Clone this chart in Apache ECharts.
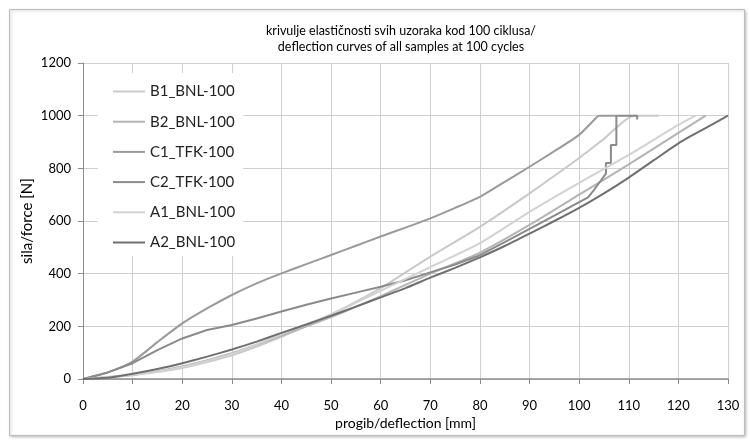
<!DOCTYPE html>
<html>
<head>
<meta charset="utf-8">
<script src="https://cdn.jsdelivr.net/npm/echarts@6/dist/echarts.min.js"></script>
<style>
html,body{margin:0;padding:0;background:#fff;}
#chart{width:750px;height:443px;}
</style>
</head>
<body>
<div id="chart"></div>
<script>
// ---- data (deflection in mm, force in N) ----
const seriesNames = ['B1_BNL-100','B2_BNL-100','C1_TFK-100','C2_TFK-100','A1_BNL-100','A2_BNL-100'];

const b1X = [0,10,20,30,40,50,60,70,80,90,100,105,111,116];
const b1Y = [0,15,42,90,160,245,345,465,578,705,839,912,1000,1000];

const b2X = [0,10,20,30,40,50,60,70,80,90,100,110,120,125.5];
const b2Y = [0,15,48,98,165,235,315,400,480,585,700,815,935,1000];

const c1X = [0,5,10,15,20,25,30,35,40,45,50,55,60,65,70,75,80,84,90,95,100,103.6,104,107.5];
const c1Y = [0,25,66,140,211,268,319,363,401,436,471,506,541,575,610,650,692,737,806,865,927,995,1000,1000];

const c2X = [0,5,10,15,20,25,30,35,40,45,50,55,60,65,70,75,80,85,90,95,100,101.8,103,104.3,105.4,105.4,106.4,106.4,107.5,107.5,111.7,111.7];
const c2Y = [0,25,60,110,154,186,205,230,256,282,306,328,350,375,405,435,470,520,570,620,672,690,718,752,780,820,820,889,889,1000,1000,985];

const a1X = [0,10,20,30,40,50,60,70,80,90,100,110,120,123.5];
const a1Y = [0,16,45,95,170,245,335,425,516,635,745,851,965,1000];

const a2X = [0,5,10,15,20,25,30,35,40,45,50,55,60,65,70,75,80,85,90,95,100,105,110,115,120,125,130];
const a2Y = [0,5,20,38,60,85,112,142,175,207,240,275,310,345,385,422,462,505,552,600,650,705,765,830,895,948,1000];

const xTicks = {min:0, max:130, interval:10};
const yTicks = {min:0, max:1200, interval:200};

const titleLines = ['krivulje elastičnosti svih uzoraka kod 100 ciklusa/','deflection curves of all samples at 100 cycles'];
const xName = 'progib/deflection [mm]';
const yName = 'sila/force [N]';

// ---- build ----
const allX = [b1X,b2X,c1X,c2X,a1X,a2X];
const allY = [b1Y,b2Y,c1Y,c2Y,a1Y,a2Y];
const colors = ['#c9c9c9','#b4b4b4','#9a9a9a','#8a8a8a','#d2d2d2','#6f6f6f'];
const smoothing = [0.2,0.2,0.2,false,0.2,0.2];
const FONT = "Lato,'Open Sans',sans-serif";

const series = seriesNames.map((n,i)=>({
  name:n, type:'line', symbol:'none', smooth:smoothing[i],
  data: allX[i].map((x,j)=>[x, allY[i][j]]),
  lineStyle:{color:colors[i], width:2},
  itemStyle:{color:colors[i]},
  z: 3
}));

const chart = echarts.init(document.getElementById('chart'), null, {renderer:'canvas'});
chart.setOption({
  animation:false,
  backgroundColor:'#fff',
  textStyle:{fontFamily:FONT},
  graphic:[{
    type:'rect', left:9, top:9, z:-10,
    shape:{width:735, height:426},
    style:{fill:'#fff', stroke:'#bdbdbd', lineWidth:1, shadowBlur:3, shadowColor:'rgba(0,0,0,0.25)', shadowOffsetX:1, shadowOffsetY:1}
  }],
  title:{
    text: titleLines[0],
    subtext: titleLines[1],
    left:401, top:24, textAlign:'center', itemGap:3, padding:0,
    textStyle:{fontFamily:FONT, fontSize:12.5, fontWeight:'normal', color:'#000'},
    subtextStyle:{fontFamily:FONT, fontSize:12.5, fontWeight:'normal', color:'#000'}
  },
  legend:{
    orient:'vertical', left:98, top:73,
    padding:[11,8,6,15],
    backgroundColor:'#fff',
    icon:'rect',
    itemWidth:32, itemHeight:2, itemGap:15.2,
    textStyle:{fontFamily:FONT, fontSize:15, color:'#222'},
    data: seriesNames
  },
  grid:{left:83, right:22, top:63, bottom:64, containLabel:false},
  xAxis:{
    type:'value', min:xTicks.min, max:xTicks.max, interval:xTicks.interval,
    name:xName, nameLocation:'middle', nameGap:37, nameMoveOverlap:false,
    nameTextStyle:{fontFamily:FONT, fontSize:14, color:'#000'},
    axisLine:{show:true, lineStyle:{color:'#8c8c8c', width:1.5}},
    axisTick:{show:true, length:5, lineStyle:{color:'#8c8c8c'}},
    axisLabel:{margin:20, fontFamily:FONT, fontSize:13, color:'#000'},
    splitLine:{show:true, lineStyle:{color:'#cfcfcf', width:1}}
  },
  yAxis:{
    type:'value', min:yTicks.min, max:yTicks.max, interval:yTicks.interval,
    name:yName, nameLocation:'middle', nameGap:48, nameMoveOverlap:false,
    nameTextStyle:{fontFamily:FONT, fontSize:15, color:'#000'},
    axisLine:{show:true, lineStyle:{color:'#8c8c8c', width:1}},
    axisTick:{show:true, length:5, lineStyle:{color:'#8c8c8c'}},
    axisLabel:{margin:12, fontFamily:FONT, fontSize:13, color:'#000', formatter:(v)=>String(v)},
    splitLine:{show:true, lineStyle:{color:'#cfcfcf', width:1}}
  },
  series: series
});
</script>
</body>
</html>
